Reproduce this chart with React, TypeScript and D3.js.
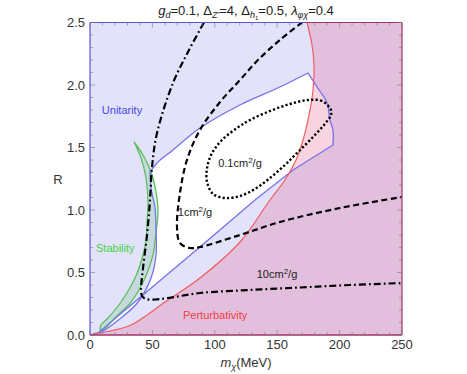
import React from 'react';
import * as d3 from 'd3';

const W = 467;
const H = 374;
const margin = { left: 90, right: 65, top: 22.5, bottom: 39 };

// [mχ (MeV), R]
const perturbativity: [number, number][] = [
	[0, 0], [16, 0.032], [32.9, 0.08], [60.1, 0.264], [88.1, 0.456], [120.2, 0.744],
	[144.2, 1.08], [156.2, 1.24], [165.1, 1.4], [170.7, 1.56], [175.5, 1.76],
	[178.7, 1.96], [179.5, 2.16], [177.9, 2.32], [173.9, 2.5]
];

const allowedLower: [number, number][] = [
	[2.4, 0.008], [6.4, 0.016], [48.1, 0.368], [88.1, 0.704], [132.2, 1.08], [162.7, 1.32], [194.7, 1.52]
];
const allowedRight: [number, number][] = [
	[194.7, 1.52], [194.7, 1.64], [192.3, 1.72], [189.9, 1.856], [181.9, 1.984], [174.7, 2.096]
];
const allowedUpper: [number, number][] = [
	[174.7, 2.096], [152.2, 1.984], [120.2, 1.84], [88.1, 1.656], [66.5, 1.48], [53.7, 1.376], [48.1, 1.304]
];
const allowedLeft: [number, number][] = [
	[48.1, 1.304], [48.9, 1.176], [52.1, 1.016], [52.9, 0.84], [52.9, 0.64], [48.9, 0.456],
	[38.5, 0.264], [24.8, 0.136], [8.8, 0.024], [2.4, 0.008]
];

const stabilityOuter: [number, number][] = [
	[35.3, 1.544], [42.5, 1.44], [48.9, 1.304], [52.9, 1.144], [54.5, 0.984], [52.9, 0.824],
	[50.5, 0.64], [44.1, 0.456], [32.9, 0.264], [20, 0.136], [10.4, 0.04], [8, 0.04]
];
const stabilityInner: [number, number][] = [
	[8, 0.04], [8.8, 0.08], [14.4, 0.136], [24.8, 0.264], [36.1, 0.456], [42.5, 0.64], [44.9, 0.76],
	[45.7, 0.904], [46.5, 1.064], [44.9, 1.256], [40.9, 1.416], [35.3, 1.544]
];

const sigma10: [number, number][] = [
	[91.3, 2.5], [78.5, 2.264], [66.5, 2.016], [53.7, 1.616], [49.7, 1.344], [48.1, 1.08],
	[45.7, 0.8], [42.5, 0.536], [40.9, 0.36], [41.7, 0.312], [44.9, 0.288], [52.1, 0.284],
	[62.5, 0.296], [88.1, 0.336], [128.2, 0.36], [168.3, 0.38], [208.3, 0.4], [250, 0.416]
];
const sigma1: [number, number][] = [
	[169.9, 2.5], [152.2, 2.36], [134.6, 2.2], [120.2, 2.04], [104.2, 1.864], [88.1, 1.64],
	[77.7, 1.4], [72.1, 1.136], [69.7, 0.864], [72.1, 0.736], [80.1, 0.696], [88.1, 0.704],
	[120.2, 0.8], [152.2, 0.904], [200.3, 1.016], [250, 1.104]
];
const sigma01: [number, number][] = [
	[193.1, 1.8], [185.9, 1.872], [174.7, 1.88], [160.3, 1.848], [144.2, 1.792], [128.2, 1.72],
	[117.8, 1.656], [105.8, 1.56], [97.8, 1.456], [93.8, 1.336], [93.8, 1.224], [98.6, 1.128],
	[108.2, 1.096], [120.2, 1.112], [132.2, 1.168], [144.2, 1.256], [156.2, 1.36], [166.7, 1.464],
	[177.9, 1.576], [187.5, 1.68], [193.1, 1.76]
];

const xTicks = [0, 50, 100, 150, 200, 250];
const yTicks = [0, 0.5, 1.0, 1.5, 2.0, 2.5];

const x = d3.scaleLinear().domain([0, 250]).range([margin.left, W - margin.right]);
const y = d3.scaleLinear().domain([0, 2.5]).range([H - margin.bottom, margin.top]);

const line = d3.line<[number, number]>().x(d => x(d[0])).y(d => y(d[1]));
const smooth = d3.line<[number, number]>().x(d => x(d[0])).y(d => y(d[1])).curve(d3.curveCatmullRom.alpha(0.5));
const closed = d3.line<[number, number]>().x(d => x(d[0])).y(d => y(d[1])).curve(d3.curveCatmullRomClosed.alpha(0.5));

const joinSegs = (segs: string[]) => segs.map((s, i) => (i === 0 ? s : s.replace(/^M/, 'L'))).join('');

const allowedPath =
	joinSegs([line(allowedLower)!, smooth(allowedRight)!, smooth(allowedUpper)!, smooth(allowedLeft)!]) + 'Z';

const pertPath =
	smooth(perturbativity)! + `L${x(250)},${y(2.5)}L${x(250)},${y(0)}Z`;

const stabPath = joinSegs([smooth(stabilityOuter)!, smooth(stabilityInner)!]) + 'Z';

const minorX = d3.range(0, 251, 10);
const minorY = d3.range(0, 2.501, 0.1);

export default function App() {
	const x0 = x(0), x1 = x(250), y0 = y(0), y1 = y(2.5);
	const font = 'Liberation Sans, Arial, sans-serif';
	const redTopX = x(perturbativity[perturbativity.length - 1][0]);
	return (
		<svg width={W} height={H} style={{ position: 'absolute', left: 0, top: 0 }} fontFamily={font}>
			<rect x={0} y={0} width={W} height={H} fill="white" />
			{/* unitarity excluded: whole frame */}
			<rect x={x0} y={y1} width={x1 - x0} height={y0 - y1} fill="#e2e2fb" />
			<path d={allowedPath} fill="white" stroke="none" />
			<path d={pertPath} fill="rgba(225,100,140,0.28)" stroke="none" />
			<path d={stabPath} fill="rgba(90,190,110,0.2)" stroke="#5cbf5c" strokeWidth={1.3} />
			<path d={allowedPath} fill="none" stroke="#7272ec" strokeWidth={1.3} />
			<path d={smooth(perturbativity)!} fill="none" stroke="#f25c5c" strokeWidth={1.2} />

			{/* cross section contours */}
			<path d={smooth(sigma10)!} fill="none" stroke="black" strokeWidth={2.2} strokeDasharray="7,3,1.8,3" />
			<path d={smooth(sigma1)!} fill="none" stroke="black" strokeWidth={2.2} strokeDasharray="6,3.5" />
			<path d={closed(sigma01)!} fill="none" stroke="black" strokeWidth={2.4} strokeDasharray="2.2,2.2" />

			{/* frame */}
			<line x1={x0} y1={y0} x2={x0} y2={y1} stroke="#5555d8" strokeWidth={1.2} />
			<line x1={x0} y1={y1} x2={redTopX} y2={y1} stroke="#5555d8" strokeWidth={1.2} />
			<line x1={redTopX} y1={y1} x2={x1} y2={y1} stroke="#a03467" strokeWidth={1.2} />
			<line x1={x1} y1={y1} x2={x1} y2={y0} stroke="#a03467" strokeWidth={1.2} />
			<line x1={x0} y1={y0} x2={x1} y2={y0} stroke="#a03467" strokeWidth={1.4} />

			{/* ticks */}
			{minorX.map(v => {
				const len = v % 50 === 0 ? 5 : 3;
				return (
					<g key={'tx' + v} stroke="#777" strokeWidth={0.6}>
						<line x1={x(v)} x2={x(v)} y1={y0} y2={y0 - len} />
						<line x1={x(v)} x2={x(v)} y1={y1} y2={y1 + len} />
					</g>
				);
			})}
			{minorY.map((v, i) => {
				const len = i % 5 === 0 ? 5 : 3;
				return (
					<g key={'ty' + i} stroke="#777" strokeWidth={0.6}>
						<line x1={x0} x2={x0 + len} y1={y(v)} y2={y(v)} />
						<line x1={x1} x2={x1 - len} y1={y(v)} y2={y(v)} />
					</g>
				);
			})}
			{xTicks.map(v => (
				<text key={'lx' + v} x={x(v)} y={y0 + 14} textAnchor="middle" fontSize={13} fill="#333">
					{v}
				</text>
			))}
			{yTicks.map(v => (
				<text key={'ly' + v} x={x0 - 5} y={y(v) + 4.5} textAnchor="end" fontSize={13} fill="#333">
					{v.toFixed(1)}
				</text>
			))}

			{/* region labels */}
			<text x={122} y={114} textAnchor="middle" fontSize={11} fill="#4848e4">Unitarity</text>
			<text x={96} y={252} fontSize={11} fill="#3fd33f">Stability</text>
			<text x={183} y={319} fontSize={11} fill="#f04040">Perturbativity</text>
			<text x={240} y={167} textAnchor="middle" fontSize={11} fill="#222">
				0.1cm<tspan dy={-4} fontSize={8}>2</tspan><tspan dy={4}>/g</tspan>
			</text>
			<text x={195} y={216} textAnchor="middle" fontSize={11} fill="#222">
				1cm<tspan dy={-4} fontSize={8}>2</tspan><tspan dy={4}>/g</tspan>
			</text>
			<text x={277} y={278} textAnchor="middle" fontSize={11} fill="#222">
				10cm<tspan dy={-4} fontSize={8}>2</tspan><tspan dy={4}>/g</tspan>
			</text>

			{/* axis labels */}
			<text x={58} y={184} textAnchor="middle" fontSize={13} fill="#333">R</text>
			<text x={246} y={367} textAnchor="middle" fontSize={13} fill="#333">
				<tspan fontStyle="italic">m</tspan>
				<tspan fontStyle="italic" fontSize={9} dy={3}>χ</tspan>
				<tspan dy={-3}>(MeV)</tspan>
			</text>

			{/* title */}
			<text x={246} y={15} textAnchor="middle" fontSize={13} fill="#222">
				<tspan fontStyle="italic">g</tspan>
				<tspan fontStyle="italic" fontSize={9} dy={3}>d</tspan>
				<tspan dy={-3}>=0.1, Δ</tspan>
				<tspan fontStyle="italic" fontSize={9} dy={3}>Z'</tspan>
				<tspan dy={-3}>=4, Δ</tspan>
				<tspan fontStyle="italic" fontSize={9} dy={3}>h</tspan>
				<tspan fontSize={6} dy={1.5}>1</tspan>
				<tspan dy={-4.5}>=0.5, </tspan>
				<tspan fontStyle="italic">λ</tspan>
				<tspan fontStyle="italic" fontSize={9} dy={3}>φχ</tspan>
				<tspan dy={-3}>=0.4</tspan>
			</text>
		</svg>
	);
}
